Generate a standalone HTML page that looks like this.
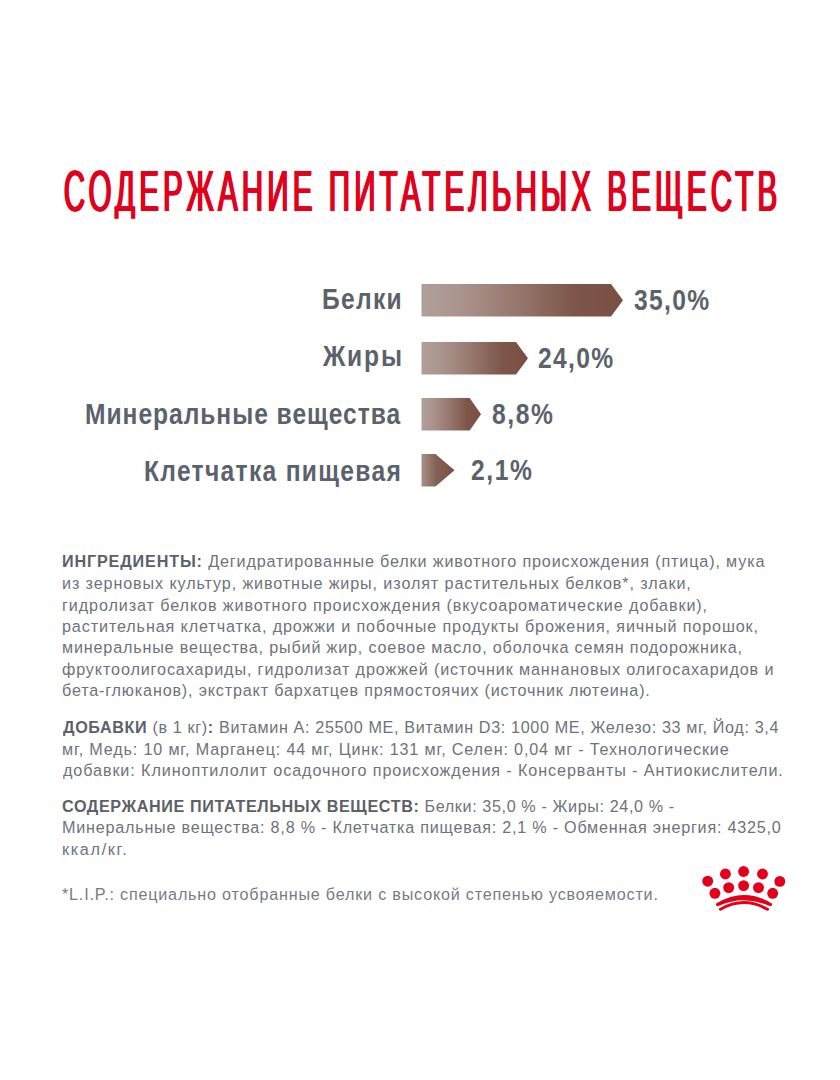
<!DOCTYPE html>
<html lang="ru"><head><meta charset="utf-8"><title>Содержание питательных веществ</title>
<style>
html,body{margin:0;padding:0;background:#fff;}
body{width:840px;height:1080px;position:relative;overflow:hidden;font-family:"Liberation Sans",sans-serif;}
.l{position:absolute;white-space:nowrap;line-height:0;transform-origin:0 0;}
.t{color:#e2001a;text-shadow:1px 0 0 #e2001a,2px 0 0 #e2001a,3px 0 0 #e2001a;}
.lab{color:#5b626c;font-weight:bold;}
.txt{color:#6e737a;}
.txt b{color:#5c6168;}
.fn{color:#777c83;}
</style></head><body>
<div class="l t" style="left:63.3px;top:191.2px;font-size:58px;letter-spacing:8.065px;transform:scaleX(0.51);">СОДЕРЖАНИЕ ПИТАТЕЛЬНЫХ ВЕЩЕСТВ</div>
<div class="l lab" style="left:321.6px;top:298.99px;font-size:28.6px;letter-spacing:1.547px;transform:scaleX(0.86);">Белки</div>
<div class="l lab" style="left:323.1px;top:356.49px;font-size:28.6px;letter-spacing:2.155px;transform:scaleX(0.86);">Жиры</div>
<div class="l lab" style="left:84.7px;top:414.29px;font-size:28.6px;letter-spacing:1.133px;transform:scaleX(0.86);">Минеральные вещества</div>
<div class="l lab" style="left:144.4px;top:470.99px;font-size:28.6px;letter-spacing:1.533px;transform:scaleX(0.86);">Клетчатка пищевая</div>
<div class="l lab" style="left:634.0px;top:300.25px;font-size:29px;letter-spacing:1.574px;transform:scaleX(0.85);">35,0%</div>
<div class="l lab" style="left:538.2px;top:358.25px;font-size:29px;letter-spacing:1.544px;transform:scaleX(0.85);">24,0%</div>
<div class="l lab" style="left:492.3px;top:413.95px;font-size:29px;letter-spacing:1.843px;transform:scaleX(0.85);">8,8%</div>
<div class="l lab" style="left:470.9px;top:470.45px;font-size:29px;letter-spacing:1.843px;transform:scaleX(0.85);">2,1%</div>
<div class="l txt" style="left:62.0px;top:561.34px;font-size:17.2px;letter-spacing:0.905px;transform:scaleX(0.94);"><b>ИНГРЕДИЕНТЫ:</b> Дегидратированные белки животного происхождения (птица), мука</div>
<div class="l txt" style="left:62.0px;top:583.04px;font-size:17.2px;letter-spacing:0.943px;transform:scaleX(0.94);">из зерновых культур, животные жиры, изолят растительных белков*, злаки,</div>
<div class="l txt" style="left:62.0px;top:604.54px;font-size:17.2px;letter-spacing:0.958px;transform:scaleX(0.94);">гидролизат белков животного происхождения (вкусоароматические добавки),</div>
<div class="l txt" style="left:62.0px;top:625.94px;font-size:17.2px;letter-spacing:0.937px;transform:scaleX(0.94);">растительная клетчатка, дрожжи и побочные продукты брожения, яичный порошок,</div>
<div class="l txt" style="left:62.0px;top:647.34px;font-size:17.2px;letter-spacing:0.873px;transform:scaleX(0.94);">минеральные вещества, рыбий жир, соевое масло, оболочка семян подорожника,</div>
<div class="l txt" style="left:62.0px;top:668.84px;font-size:17.2px;letter-spacing:0.933px;transform:scaleX(0.94);">фруктоолигосахариды, гидролизат дрожжей (источник маннановых олигосахаридов и</div>
<div class="l txt" style="left:62.0px;top:690.24px;font-size:17.2px;letter-spacing:0.882px;transform:scaleX(0.94);">бета-глюканов), экстракт бархатцев прямостоячих (источник лютеина).</div>
<div class="l txt" style="left:62.6px;top:727.14px;font-size:17.2px;letter-spacing:0.676px;transform:scaleX(0.94);"><b>ДОБАВКИ</b> (в 1 кг)<b>:</b> Витамин A: 25500 МЕ, Витамин D3: 1000 МЕ, Железо: 33 мг, Йод: 3,4</div>
<div class="l txt" style="left:61.6px;top:748.84px;font-size:17.2px;letter-spacing:0.889px;transform:scaleX(0.94);">мг, Медь: 10 мг, Марганец: 44 мг, Цинк: 131 мг, Селен: 0,04 мг - Технологические</div>
<div class="l txt" style="left:62.6px;top:770.04px;font-size:17.2px;letter-spacing:0.965px;transform:scaleX(0.94);">добавки: Клиноптилолит осадочного происхождения - Консерванты - Антиокислители.</div>
<div class="l txt" style="left:61.6px;top:805.94px;font-size:17.2px;letter-spacing:0.651px;transform:scaleX(0.94);"><b>СОДЕРЖАНИЕ ПИТАТЕЛЬНЫХ ВЕЩЕСТВ:</b> Белки: 35,0 % - Жиры: 24,0 % -</div>
<div class="l txt" style="left:61.6px;top:827.34px;font-size:17.2px;letter-spacing:0.825px;transform:scaleX(0.94);">Минеральные вещества: 8,8 % - Клетчатка пищевая: 2,1 % - Обменная энергия: 4325,0</div>
<div class="l txt" style="left:61.6px;top:849.04px;font-size:17.2px;letter-spacing:1.799px;transform:scaleX(0.94);">ккал/кг.</div>
<div class="l fn" style="left:61.7px;top:894.04px;font-size:17.2px;letter-spacing:0.846px;transform:scaleX(0.94);">*L.I.P.: специально отобранные белки с высокой степенью усвояемости.</div>
<svg style="position:absolute;left:0;top:0" width="840" height="1080" viewBox="0 0 840 1080">
<defs>
<linearGradient id="g0" gradientUnits="userSpaceOnUse" x1="421.5" y1="0" x2="623" y2="0"><stop offset="0" stop-color="#afa09a"/><stop offset="0.2" stop-color="#aa938c"/><stop offset="0.5" stop-color="#94746a"/><stop offset="0.76" stop-color="#7d5649"/><stop offset="1" stop-color="#7b4f43"/></linearGradient>
<linearGradient id="g1" gradientUnits="userSpaceOnUse" x1="421.5" y1="0" x2="528" y2="0"><stop offset="0" stop-color="#afa09a"/><stop offset="0.2" stop-color="#aa938c"/><stop offset="0.5" stop-color="#94746a"/><stop offset="0.76" stop-color="#7d5649"/><stop offset="1" stop-color="#7b4f43"/></linearGradient>
<linearGradient id="g2" gradientUnits="userSpaceOnUse" x1="421.5" y1="0" x2="481" y2="0"><stop offset="0" stop-color="#afa09a"/><stop offset="0.2" stop-color="#aa938c"/><stop offset="0.5" stop-color="#94746a"/><stop offset="0.76" stop-color="#7d5649"/><stop offset="1" stop-color="#7b4f43"/></linearGradient>
<linearGradient id="g3" gradientUnits="userSpaceOnUse" x1="421.5" y1="0" x2="454.5" y2="0"><stop offset="0" stop-color="#a99089"/><stop offset="0.45" stop-color="#846054"/><stop offset="1" stop-color="#7b4f43"/></linearGradient>
</defs>
<rect x="60" y="218.8" width="730" height="8" fill="#fff"/>
<polygon fill="url(#g0)" points="421.5,284 611,284 623,300.3 611,316.6 421.5,316.6"/>
<polygon fill="url(#g1)" points="421.5,342 516,342 528,358.2 516,374.4 421.5,374.4"/>
<polygon fill="url(#g2)" points="421.5,398 469.7,398 481,414.2 469.7,430.4 421.5,430.4"/>
<polygon fill="url(#g3)" points="421.5,454 435.5,454 454.5,470.25 435.5,486.5 421.5,486.5"/>
<g fill="#e2001a"><circle cx="707.7" cy="881.2" r="5.45"/><circle cx="725.4" cy="874" r="5.45"/><circle cx="743.6" cy="871.5" r="5.45"/><circle cx="762.5" cy="874" r="5.45"/><circle cx="779.8" cy="881.4" r="5.45"/><circle cx="714.9" cy="893.3" r="5.45"/><circle cx="728.7" cy="887.6" r="5.45"/><circle cx="743.6" cy="885.6" r="5.45"/><circle cx="758.5" cy="887.6" r="5.45"/><circle cx="772.7" cy="893.3" r="5.45"/></g>
<path d="M717 903 Q744 886.8 771 903 A1.7 1.7 0 0 1 769.6 906.1 Q744 894.4 718.4 906.1 A1.7 1.7 0 0 1 717 903 Z" fill="#e2001a"/>
<path d="M720.5 909.3 Q744 895.9 767.5 909.3" fill="none" stroke="#e2001a" stroke-width="3" stroke-linecap="round"/>
</svg>
</body></html>
